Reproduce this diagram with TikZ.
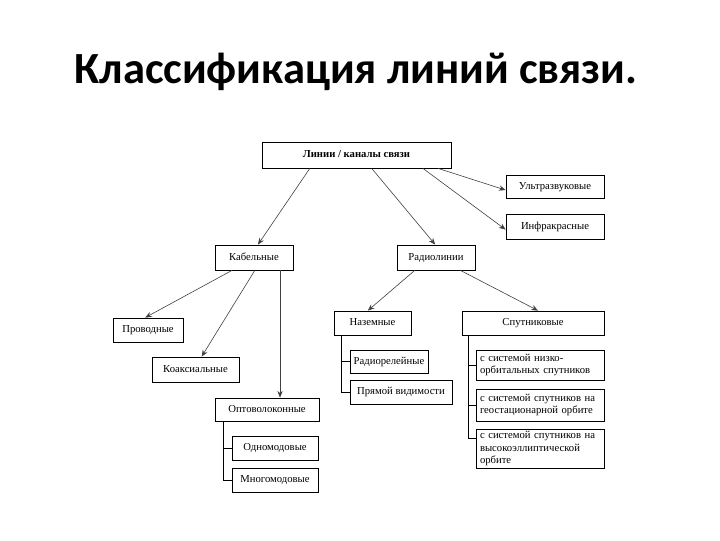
\documentclass[tikz,border=0pt]{standalone}
\usepackage{fontspec}
\setmainfont{Liberation Serif}
\newfontfamily\titlefont{Carlito}
\usetikzlibrary{calc,arrows.meta}
\begin{document}
\begin{tikzpicture}[x=0.75pt,y=-0.75pt,
  base/.style={draw=black,line width=0.6pt,inner sep=0pt,font=\fontsize{8pt}{9.5pt}\selectfont},
  box/.style={base,text height=5.8pt,text depth=1.6pt},
  mbox/.style={base,text width=121*0.75pt,align=left,inner xsep=2.5pt},
  sz/.style 2 args={minimum width=#1*0.75pt,minimum height=#2*0.75pt},
  arr/.style={draw=black!75,line width=0.45pt,-{Stealth[length=5pt,width=4pt]}},
  tree/.style={draw=black,line width=0.6pt}]
\useasboundingbox (0,0) rectangle (720,540);
\node[font=\titlefont\bfseries\fontsize{33.4pt}{38pt}\selectfont,anchor=base] (title) at (356,83) {Классификация линий связи.};
% level 0
\node[box,sz={189}{26},font=\fontsize{8pt}{9.5pt}\selectfont\bfseries] (L0) at (356.5,155) {Линии / каналы связи};
\node[box,sz={98}{23}] (U) at (555,186.5) {Ультразвуковые};
\node[box,sz={98}{25}] (I) at (555,226.5) {Инфракрасные};
% level 1
\node[box,sz={78}{25}] (K) at (254,257.5) {Кабельные};
\node[box,sz={78}{25}] (R) at (436,257.5) {Радиолинии};
% cable
\node[box,sz={70}{24}] (P) at (148,330) {Проводные};
\node[box,sz={87}{25}] (C) at (195.5,369.5) {Коаксиальные};
\node[box,sz={104}{23}] (O) at (267,409.5) {Оптоволоконные};
\node[box,sz={86}{24}] (O1) at (275,448) {Одномодовые};
\node[box,sz={86}{24}] (O2) at (275,480) {Многомодовые};
% radio
\node[box,sz={77}{24}] (N) at (372.5,323) {Наземные};
\node[box,sz={78}{23}] (N1) at (389,361.5) {Радиорелейные};
\node[box,sz={102}{24}] (N2) at (401,392) {Прямой видимости};
\node[box,sz={142}{24}] (S) at (533,323) {Спутниковые};
\node[mbox,sz={127}{30}] (S1) at (540.5,365) {с системой низко-\\орбитальных спутников};
\node[mbox,sz={127}{32}] (S2) at (540.5,405) {с системой спутников на\\геостационарной орбите};
\node[mbox,sz={127}{39}] (S3) at (540.5,448.5) {с системой спутников на\\высокоэллиптической\\орбите};
% arrows from level 0
\draw[arr] ($(L0.south west)!0.254!(L0.south east)$) -- ($(K.north west)!0.55!(K.north east)$);
\draw[arr] ($(L0.south west)!0.58!(L0.south east)$) -- ($(R.north west)!0.49!(R.north east)$);
\draw[arr] ($(L0.south west)!0.85!(L0.south east)$) -- ($(I.north west)!0.62!(I.south west)$);
\draw[arr] ($(L0.south west)!0.93!(L0.south east)$) -- ($(U.north west)!0.65!(U.south west)$);
% cable arrows
\draw[arr] ($(K.south west)!0.22!(K.south east)$) -- ($(P.north west)!0.46!(P.north east)$);
\draw[arr] ($(K.south west)!0.51!(K.south east)$) -- ($(C.north west)!0.57!(C.north east)$);
\coordinate (kx) at ($(K.south west)!0.83!(K.south east)$);
\draw[arr] (kx) -- (kx |- O.north);
% radio arrows
\draw[arr] ($(R.south west)!0.23!(R.south east)$) -- ($(N.north west)!0.44!(N.north east)$);
\draw[arr] ($(R.south west)!0.81!(R.south east)$) -- ($(S.north west)!0.535!(S.north east)$);
% trees
\coordinate (ox) at ($(O.south west)!0.087!(O.south east)$);
\draw[tree] (ox) |- (O2.west);
\draw[tree] (ox |- O1.west) -- (O1.west);
\coordinate (nx) at ($(N.south west)!0.10!(N.south east)$);
\draw[tree] (nx) |- (N2.west);
\draw[tree] (nx |- N1.west) -- (N1.west);
\coordinate (sx) at ($(S.south west)!0.05!(S.south east)$);
\coordinate (s3t) at ($(S3.north west)!0.25!(S3.south west)$);
\draw[tree] (sx) |- (s3t);
\draw[tree] (sx |- S1.west) -- (S1.west);
\draw[tree] (sx |- S2.west) -- (S2.west);
\end{tikzpicture}
\end{document}
